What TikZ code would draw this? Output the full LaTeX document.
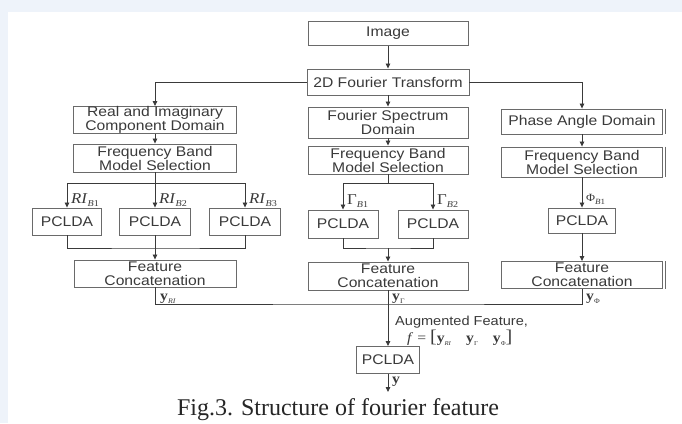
\documentclass[tikz,border=0pt]{standalone}
\usepackage{fontspec}
\setmainfont{Liberation Serif}
\newfontfamily\bx[FakeStretch=1.12]{Liberation Sans}
\newfontfamily\sx[FakeStretch=1.12]{Liberation Serif}
\usetikzlibrary{arrows.meta}
\definecolor{bgblue}{HTML}{EEF3FA}
\definecolor{lnc}{HTML}{3A3A3A}
\definecolor{bdc}{HTML}{6A6A6A}
\definecolor{txc}{HTML}{3A3A3A}
\newcommand{\lsub}[2][9]{\raisebox{-3pt}{\fontsize{#1}{#1}\selectfont #2}}
\begin{document}
\begin{tikzpicture}[x=1pt,y=-1pt,
  boxn/.style n args={2}{draw=bdc, line width=0.9pt, fill=white, minimum width=#1 pt, minimum height=#2 pt, inner sep=0pt, align=center, font=\bx\fontsize{14}{14}\selectfont, text=txc},
  arr/.style={draw=lnc, line width=0.8pt, -{Triangle[length=5pt,width=4.5pt]}},
  lnk/.style={draw=lnc, line width=0.8pt},
  dbl/.style={draw=bdc, line width=0.9pt},
  lab/.style={inner sep=0pt, text=txc, font=\sx\fontsize{15}{15}\selectfont},
  laby/.style={inner sep=0pt, text=txc, font=\sx\fontsize{14}{14}\selectfont}]
\fill[bgblue] (0,0) rectangle (682,423);
\fill[white] (8,12) rectangle (682,423);
\useasboundingbox (0,0) rectangle (682,423);

% middle column
\node[boxn={160}{24}] (img) at (388,33.5) {Image};
\node[boxn={162}{26}] (ft) at (388,82) {2D Fourier Transform};
\node[boxn={160}{31}] (fs) at (388,122.5) {Fourier Spectrum\\Domain};
\node[boxn={160}{28}] (fbm) at (388,160) {Frequency Band\\Model Selection};
\node[boxn={70}{28}] (pm1) at (343,224) {PCLDA};
\node[boxn={70}{28}] (pm2) at (433,224) {PCLDA};
\node[boxn={160}{28}] (fcm) at (388,276) {Feature\\Concatenation};
\node[boxn={63}{27}] (pf) at (388,360) {PCLDA};

% left column
\node[boxn={163}{26}] (real) at (155,120) {Real and Imaginary\\Component Domain};
\node[boxn={163}{28}] (fbl) at (155,158) {Frequency Band\\Model Selection};
\node[boxn={69}{27}] (pl1) at (67,221.5) {PCLDA};
\node[boxn={71}{27}] (pl2) at (155,221.5) {PCLDA};
\node[boxn={71}{27}] (pl3) at (245,221.5) {PCLDA};
\node[boxn={162}{27}] (fcl) at (155,273.5) {Feature\\Concatenation};

% right column
\node[boxn={161}{25}] (ph) at (582,121.5) {Phase Angle Domain};
\node[boxn={161}{30}] (fbr) at (582,162) {Frequency Band\\Model Selection};
\node[boxn={67}{25}] (pr) at (582,220.5) {PCLDA};
\node[boxn={161}{27}] (fcr) at (582,275) {Feature\\Concatenation};
\foreach \b in {ph,fbr,fcr}
  \draw[dbl] ([xshift=2.5pt]\b.north east) -- ([xshift=2.5pt]\b.south east);

% coordinates
\coordinate (bl) at (155,183);
\coordinate (jl) at (155,248);
\coordinate (bm) at (388,183);
\coordinate (jm) at (388,248);
\coordinate (bb) at (388,304);
\coordinate (out) at (388,392);

% connectors top
\draw[arr] (img) -- (ft);
\draw[arr] (ft.west) -| (real.north);
\draw[arr] (ft.east) -| (ph.north);
\draw[arr] (ft) -- (fs);
\draw[arr] (real) -- (fbl);
\draw[arr] (fs) -- (fbm);
\draw[arr] (ph) -- (fbr);

% left branch
\draw[arr] (fbl.south) -- (pl2.north);
\draw[arr] (bl) -| (pl1.north);
\draw[arr] (bl) -| (pl3.north);
\draw[lnk] (pl1.south) |- (jl) -| (pl3.south);
\draw[lnk] (pl2.south) -- (jl);
\draw[arr] (jl) -- (fcl.north);

% middle branch
\draw[lnk] (fbm.south) -- (bm);
\draw[arr] (bm) -| (pm1.north);
\draw[arr] (bm) -| (pm2.north);
\draw[lnk] (pm1.south) |- (jm) -| (pm2.south);
\draw[arr] (jm) -- (fcm.north);

% right branch
\draw[arr] (fbr) -- (pr);
\draw[arr] (pr) -- (fcr);

% bottom
\draw[lnk] (fcl.south) |- (bb) -| (fcr.south);
\draw[arr] (fcm.south) -- (pf.north);
\draw[arr] (pf.south) -- (out);

% labels
\node[lab, anchor=base west] (lr1) at ([xshift=4pt,yshift=4pt]pl1.north) {\textit{RI}\lsub{\textit{B}1}};
\node[lab, anchor=base west] (lr2) at ([xshift=4pt,yshift=4pt]pl2.north) {\textit{RI}\lsub{\textit{B}2}};
\node[lab, anchor=base west] (lr3) at ([xshift=4pt,yshift=4pt]pl3.north) {\textit{RI}\lsub{\textit{B}3}};
\node[lab, anchor=base west] (lg1) at ([xshift=4pt,yshift=5pt]pm1.north) {Γ\lsub{\textit{B}1}};
\node[lab, anchor=base west] (lg2) at ([xshift=4pt,yshift=5pt]pm2.north) {Γ\lsub{\textit{B}2}};
\node[lab, anchor=base west, font=\sx\fontsize{11}{11}\selectfont] (lp1) at ([xshift=4pt,yshift=6pt]pr.north) {Φ\lsub[8]{\textit{B}1}};

\node[laby, anchor=base west] (yri) at (160,300.5) {\textbf{y}\lsub[7]{\textit{RI}}};
\node[laby, anchor=base west] (yg) at (392,300.5) {\textbf{y}\lsub[7]{Γ}};
\node[laby, anchor=base west] (yp) at (586,300.5) {\textbf{y}\lsub[7]{Φ}};
\node[laby, anchor=base west] (yout) at (392,383) {\textbf{y}};

\node[inner sep=0pt, anchor=base west, text=txc, font=\bx\fontsize{13}{13}\selectfont] (aug) at (395,325) {Augmented Feature,};
\node[inner sep=0pt, anchor=base west, text=txc, font=\sx\fontsize{14}{14}\selectfont] (form) at (407,342)
  {\textit{f} = {\fontsize{18}{18}\selectfont[}\textbf{y}\lsub[6]{\textit{RI}}\hspace{15pt}\textbf{y}\lsub[6]{Γ}\hspace{15pt}\textbf{y}\lsub[6]{Φ}{\fontsize{18}{18}\selectfont]}};

\node[inner sep=0pt, anchor=base, text=black!85, font=\fontsize{24}{24}\selectfont] (cap) at (338,415) {Fig.3. Structure of fourier feature};
\end{tikzpicture}
\end{document}
